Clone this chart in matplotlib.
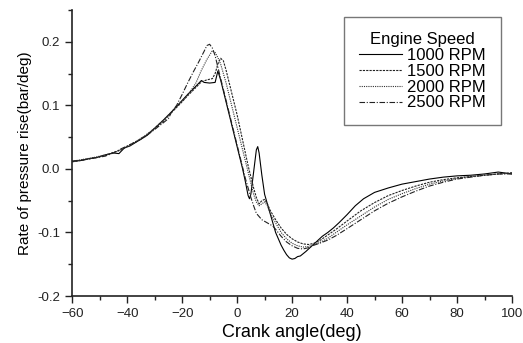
import matplotlib.pyplot as plt
from matplotlib.ticker import MultipleLocator

plt.rcParams['font.family'] = ['Liberation Sans', 'DejaVu Sans']

# 1000 RPM
x_1000 = [-60, -57, -54, -51, -48, -45, -43, -41, -39, -36, -33, -30, -27, -24, -21, -18, -15,
          -13, -12, -10, -8, -7, -6, -4, -2, 0, 2, 3, 4, 4.5, 5, 6, 7, 7.5, 8, 9, 10, 11, 12,
          13, 14, 15, 16, 17, 18, 19, 20, 21, 22, 23, 25, 27, 29, 31, 33, 35, 37, 40, 43, 46,
          50, 55, 60, 65, 70, 75, 80, 85, 90, 95, 100]
y_1000 = [0.012, 0.013, 0.016, 0.018, 0.022, 0.025, 0.024, 0.033, 0.036, 0.044, 0.052, 0.064,
          0.076, 0.089, 0.103, 0.117, 0.130, 0.139, 0.136, 0.135, 0.136, 0.154, 0.140, 0.105,
          0.070, 0.035, 0.000, -0.020, -0.042, -0.047, -0.040, -0.005, 0.030, 0.035, 0.025,
          -0.010, -0.040, -0.055, -0.070, -0.085, -0.100, -0.110, -0.120, -0.128, -0.135,
          -0.140, -0.142, -0.141, -0.138, -0.137, -0.130, -0.122, -0.114, -0.106, -0.100,
          -0.093, -0.085, -0.072, -0.058, -0.047, -0.037, -0.030, -0.024, -0.020, -0.016,
          -0.013, -0.011, -0.010, -0.008, -0.005, -0.008]

# 1500 RPM
x_1500 = [-60, -56, -52, -48, -45, -42, -39, -36, -33, -30, -27, -24, -21, -18, -15, -13, -11,
          -9, -8, -7, -6, -5, -4, -2, 0, 2, 4, 6, 7, 8, 9, 10, 11, 12, 14, 16, 18, 20, 22, 24,
          26, 28, 30, 33, 36, 40, 45, 50, 55, 60, 65, 70, 75, 80, 85, 90, 95, 100]
y_1500 = [0.011, 0.014, 0.017, 0.021, 0.026, 0.030, 0.038, 0.045, 0.053, 0.063, 0.074, 0.088,
          0.101, 0.115, 0.128, 0.137, 0.140, 0.142, 0.150, 0.165, 0.174, 0.170, 0.155, 0.120,
          0.085, 0.045, 0.005, -0.030, -0.045, -0.055, -0.050, -0.048, -0.055, -0.065, -0.080,
          -0.093, -0.103, -0.110, -0.115, -0.118, -0.119, -0.117, -0.113, -0.104, -0.095,
          -0.082, -0.066, -0.053, -0.042, -0.034, -0.027, -0.021, -0.017, -0.014, -0.012,
          -0.010, -0.008, -0.006]

# 2000 RPM
x_2000 = [-60, -56, -52, -48, -45, -42, -39, -36, -33, -30, -27, -24, -21, -19, -17, -15, -13,
          -11, -9, -8, -7, -6, -4, -2, 0, 2, 4, 6, 7, 8, 9, 10, 11, 12, 14, 16, 18, 20, 22, 24,
          26, 28, 30, 33, 36, 40, 45, 50, 55, 60, 65, 70, 75, 80, 85, 90, 95, 100]
y_2000 = [0.012, 0.015, 0.018, 0.022, 0.025, 0.031, 0.037, 0.045, 0.054, 0.064, 0.076, 0.089,
          0.102, 0.111, 0.122, 0.135, 0.155, 0.172, 0.186, 0.183, 0.175, 0.165, 0.135, 0.100,
          0.065, 0.030, -0.005, -0.040, -0.052, -0.058, -0.055, -0.052, -0.058, -0.070, -0.085,
          -0.100, -0.110, -0.117, -0.121, -0.123, -0.122, -0.119, -0.116, -0.109, -0.100,
          -0.088, -0.074, -0.060, -0.048, -0.039, -0.031, -0.024, -0.019, -0.015, -0.012,
          -0.010, -0.008, -0.007]

# 2500 RPM
x_2500 = [-60, -56, -52, -48, -45, -42, -39, -36, -33, -30, -27, -25, -24, -22, -20, -18, -16,
          -14, -12, -11, -10, -9, -8, -7, -5, -3, -1, 1, 3, 5, 6, 7, 9, 11, 13, 14, 16, 18, 20,
          22, 24, 26, 28, 30, 33, 36, 40, 45, 50, 55, 60, 65, 70, 75, 80, 85, 90, 95, 100]
y_2500 = [0.012, 0.014, 0.017, 0.020, 0.025, 0.032, 0.038, 0.044, 0.052, 0.062, 0.072, 0.079,
          0.088, 0.100, 0.117, 0.135, 0.152, 0.168, 0.185, 0.194, 0.196, 0.190, 0.178, 0.160,
          0.125, 0.090, 0.055, 0.020, -0.015, -0.045, -0.058, -0.070, -0.080, -0.085, -0.090,
          -0.095, -0.106, -0.115, -0.121, -0.125, -0.126, -0.124, -0.120, -0.117, -0.112,
          -0.105, -0.094, -0.080, -0.066, -0.054, -0.044, -0.035, -0.027, -0.021, -0.016,
          -0.013, -0.010, -0.008, -0.008]

fig = plt.figure(figsize=(5.23, 3.43), dpi=100)
ax = fig.add_axes([0.138, 0.137, 0.841, 0.834])

ax.plot(x_1000, y_1000, color="black", lw=0.8, linestyle="-", label="1000 RPM")
ax.plot(x_1500, y_1500, color="#222222", lw=0.8, linestyle=(0, (2, 1)), label="1500 RPM")
ax.plot(x_2000, y_2000, color="#333333", lw=0.8, linestyle=(0, (1, 1)), label="2000 RPM")
ax.plot(x_2500, y_2500, color="#222222", lw=0.8, linestyle=(0, (5, 1.5, 1, 1.5)), label="2500 RPM")

ax.set_xlim(-60, 100)
ax.set_ylim(-0.2, 0.25)
ax.set_xticks([-60, -40, -20, 0, 20, 40, 60, 80, 100])
ax.set_yticks([-0.2, -0.1, 0.0, 0.1, 0.2])
ax.set_yticklabels(["-0.2", "-0.1", "0.0", "0.1", "0.2"])
ax.xaxis.set_minor_locator(MultipleLocator(10))
ax.yaxis.set_minor_locator(MultipleLocator(0.05))
ax.tick_params(which="major", direction="out", length=5, width=1, labelsize=9.5, colors="#222222")
ax.tick_params(which="minor", direction="out", length=3, width=1, colors="#222222")

for side in ["top", "right"]:
    ax.spines[side].set_visible(False)
for side in ["left", "bottom"]:
    ax.spines[side].set_linewidth(1.2)
    ax.spines[side].set_color("#222222")

ax.set_xlabel("Crank angle(deg)", fontsize=13, labelpad=3)
ax.set_ylabel("Rate of pressure rise(bar/deg)", fontsize=11, labelpad=4)

leg = ax.legend(title="Engine Speed", loc="upper right", bbox_to_anchor=(0.975, 0.975),
                fontsize=12, title_fontsize=12, fancybox=False, framealpha=1,
                handlelength=2.6, handletextpad=0.3, labelspacing=0.05, borderpad=0.9,
                borderaxespad=0, edgecolor="#777777")
leg.get_frame().set_linewidth(1.0)

fig.savefig("out.png", dpi=100)
